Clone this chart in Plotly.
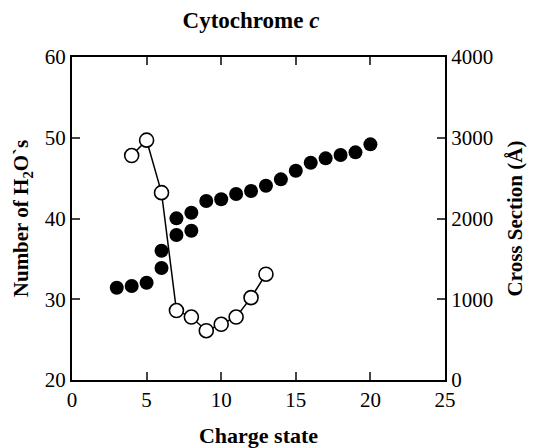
import plotly.graph_objects as go

# Cross section (right axis), filled circles
cs_charge = [3, 4, 5, 6, 6, 7, 7, 8, 8, 9, 10, 11, 12, 13, 14, 15, 16, 17, 18, 19, 20]
cs_value = [1143, 1164, 1205, 1387, 1601, 1796, 2002, 1849, 2072, 2217, 2238, 2303,
            2341, 2406, 2485, 2592, 2691, 2745, 2786, 2819, 2918]

# Number of waters (left axis), open circles
w_charge = [4, 5, 6, 7, 8, 9, 10, 11, 12, 13]
w_value = [47.8, 49.7, 43.2, 28.6, 27.8, 26.1, 26.9, 27.8, 30.2, 33.1]

x_ticks = [0, 5, 10, 15, 20, 25]
y_ticks = [20, 30, 40, 50, 60]
y2_ticks = [0, 1000, 2000, 3000, 4000]

FONT = "Liberation Serif"

fig = go.Figure()
fig.add_trace(go.Scatter(
    x=w_charge, y=w_value, mode="lines+markers",
    line=dict(color="black", width=1.5),
    marker=dict(symbol="circle", size=14, color="white",
                line=dict(color="black", width=1.6)),
    showlegend=False, yaxis="y", cliponaxis=False))
fig.add_trace(go.Scatter(
    x=cs_charge, y=cs_value, mode="markers",
    marker=dict(symbol="circle", size=14, color="black",
                line=dict(color="black", width=0)),
    showlegend=False, yaxis="y2", cliponaxis=False))

fig.update_layout(
    width=534, height=448,
    margin=dict(l=72, r=89, t=57, b=68),
    paper_bgcolor="white", plot_bgcolor="white",
    font=dict(family=FONT, color="black", size=21),
    title=dict(text="<b>Cytochrome <i>c</i></b>", x=0.47, xanchor="center",
               y=0.955, yanchor="middle", font=dict(family=FONT, size=23)),
    xaxis=dict(range=[0, 25], tickvals=x_ticks, ticks="inside", ticklen=8,
               tickwidth=1.5, showline=True, linewidth=2, linecolor="black",
               mirror="ticks", showgrid=False, zeroline=False, automargin=False,
               title=dict(text="<b>Charge state</b>", font=dict(size=22), standoff=17),
               tickfont=dict(size=21)),
    yaxis=dict(range=[20, 60], tickvals=y_ticks, ticks="inside", ticklen=8,
               tickwidth=1.5, showline=True, linewidth=2, linecolor="black",
               showgrid=False, zeroline=False, ticklabelstandoff=0, automargin=False,
               title=dict(text="<b>Number of H<sub>2</sub>O`s</b>", font=dict(size=21), standoff=10),
               tickfont=dict(size=21)),
    yaxis2=dict(range=[0, 4000], tickvals=y2_ticks, ticks="inside", ticklen=8,
                tickwidth=1.5, showline=True, linewidth=2, linecolor="black",
                overlaying="y", side="right", showgrid=False, zeroline=False, automargin=False,
                title=dict(text="<b>Cross Section (Å)</b>", font=dict(size=21), standoff=15),
                tickfont=dict(size=21)),
)

fig.write_html("out.html")
